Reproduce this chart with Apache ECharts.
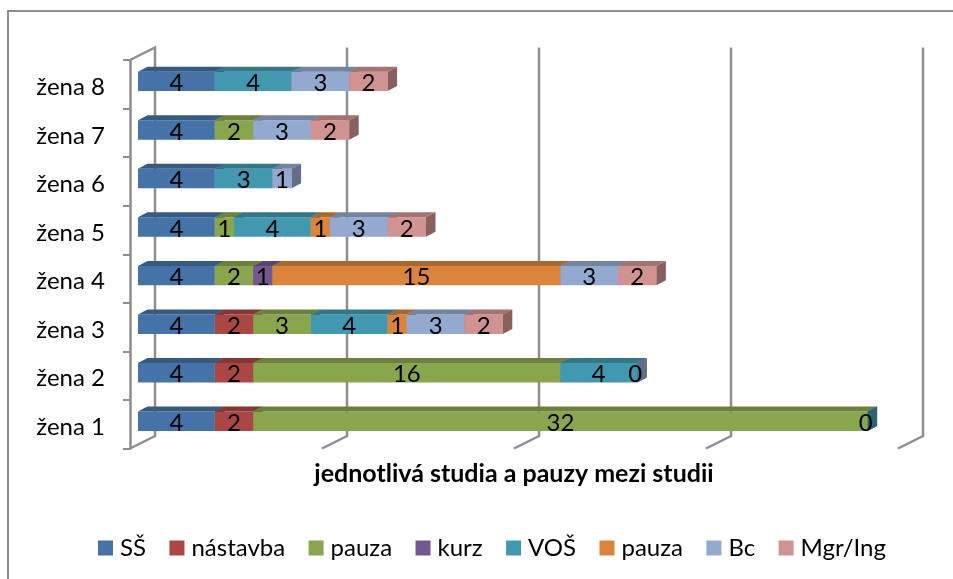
<!DOCTYPE html>
<html>
<head>
<meta charset="utf-8">
<style>
  html, body { margin: 0; padding: 0; background: #fff; }
  #chart { width: 953px; height: 579px; }
</style>
<script src="https://cdn.jsdelivr.net/npm/echarts@6/dist/echarts.min.js"></script>
</head>
<body>
<div id="chart"></div>
<script>
const categories = ['žena 1', 'žena 2', 'žena 3', 'žena 4', 'žena 5', 'žena 6', 'žena 7', 'žena 8'];
const ss = [4, 4, 4, 4, 4, 4, 4, 4];
const nastavba = [2, 2, 2, null, null, null, null, null];
const pauza1 = [32, 16, 3, 2, 1, null, 2, null];
const kurz = [null, null, null, 1, null, null, null, null];
const vos = [0, 4, 4, null, 4, 3, null, 4];
const pauza2 = [null, null, 1, 15, 1, null, null, null];
const bc = [null, 0, 3, 3, 3, 1, 3, 3];
const mgr = [null, null, 2, 2, 2, null, 2, 2];
const wallTicks = [0, 10, 20, 30, 40];

const names = ['SŠ', 'nástavba', 'pauza', 'kurz', 'VOŠ', 'pauza 2', 'Bc', 'Mgr/Ing'];
const colors = ['#4573a7', '#aa4643', '#89a54e', '#71588f', '#4198af', '#db843d', '#93a9cf', '#d19392'];
const values = [ss, nastavba, pauza1, kurz, vos, pauza2, bc, mgr];

const FONT = 'Lato, Carlito, sans-serif';
const GRID_COLOR = '#8e8e8e';
// pseudo 3D offsets
const WALL_DX = 25, WALL_DY = -12.5;
const BAR_X = 8, BAR_Y = -2.9, BAR_H = 19.4;
const DEPTH_X = 9.5, DEPTH_Y = -5;

// running total per woman, the bars are stacked by hand
const totals = categories.map(() => 0);
const stacked = values.map(arr => arr.map((v, i) => {
  if (v === null) return null;
  const start = totals[i];
  totals[i] += v;
  return [start, totals[i], i, v];
}).filter(d => d));

function darken(hex, k) {
  const n = parseInt(hex.slice(1), 16);
  const c = [n >> 16, (n >> 8) & 255, n & 255].map(x => Math.round(x * k));
  return 'rgb(' + c.join(',') + ')';
}

function renderSegment(params, api) {
  const start = api.coord([api.value(0), api.value(2)]);
  const end = api.coord([api.value(1), api.value(2)]);
  const v = api.value(3);
  const color = colors[params.seriesIndex - 1];
  const x0 = start[0] + BAR_X, x1 = end[0] + BAR_X;
  const yt = start[1] + BAR_Y - BAR_H / 2, yb = yt + BAR_H;
  const children = [];
  if (v > 0) {
    children.push({
      type: 'rect',
      shape: { x: x0, y: yt, width: x1 - x0, height: BAR_H },
      style: { fill: color }
    });
    children.push({
      type: 'polygon',
      shape: { points: [[x0, yt], [x0 + DEPTH_X, yt + DEPTH_Y], [x1 + DEPTH_X, yt + DEPTH_Y], [x1, yt]] },
      style: { fill: darken(color, 0.78) }
    });
  }
  children.push({
    type: 'polygon',
    shape: { points: [[x1, yt], [x1 + DEPTH_X, yt + DEPTH_Y], [x1 + DEPTH_X, yb + DEPTH_Y], [x1, yb]] },
    style: { fill: darken(color, 0.65) }
  });
  children.push({
    type: 'text',
    z2: 10,
    style: {
      x: (x0 + x1) / 2 - (v === 0 ? 2 : 0),
      y: start[1] + BAR_Y + 2,
      text: String(v),
      font: '24px ' + FONT,
      fill: '#000',
      align: 'center',
      verticalAlign: 'middle'
    }
  });
  return { type: 'group', children: children };
}

function renderWall(params, api) {
  const v = api.value(0);
  const half = api.size([0, 1])[1] / 2;
  const x = api.coord([v, 0])[0];
  const topY = api.coord([v, categories.length - 1])[1] - half;
  const bottomY = api.coord([v, 0])[1] + half;
  const points = [
    [x + WALL_DX, topY + WALL_DY],
    [x + WALL_DX, bottomY + WALL_DY],
    [x, bottomY]
  ];
  if (v === 0) points.unshift([x, topY]);
  return {
    type: 'polyline',
    shape: { points: points },
    style: { stroke: GRID_COLOR, lineWidth: 2.5, fill: 'none' }
  };
}

const chart = echarts.init(document.getElementById('chart'));
chart.setOption({
  animation: false,
  backgroundColor: '#fff',
  graphic: [{
    type: 'polyline',
    shape: { points: [[8, 579], [8, 11], [953, 11]] },
    style: { fill: 'none', stroke: GRID_COLOR, lineWidth: 2 }
  }],
  legend: {
    data: names,
    left: 93,
    top: 531,
    itemWidth: 15,
    itemHeight: 15,
    itemGap: 23.4,
    icon: 'rect',
    formatter: n => (n === 'pauza 2' ? 'pauza' : n),
    textStyle: { fontFamily: FONT, fontSize: 24, color: '#000', padding: [0, 0, 0, 2] }
  },
  grid: { left: 130, top: 60, width: 768, height: 388.5 },
  xAxis: {
    type: 'value',
    min: 0,
    max: 40,
    interval: 10,
    name: 'jednotlivá studia a pauzy mezi studii',
    nameLocation: 'middle',
    nameGap: 13,
    nameTextStyle: { fontFamily: FONT, fontSize: 25, fontWeight: 'bold', color: '#000' },
    axisLabel: { show: false },
    axisLine: { show: false },
    axisTick: { show: false },
    splitLine: { show: false }
  },
  yAxis: {
    type: 'category',
    data: categories,
    axisLine: { show: true, lineStyle: { color: GRID_COLOR, width: 2.5 } },
    axisTick: { show: true, length: 7, lineStyle: { color: GRID_COLOR, width: 2 } },
    axisLabel: { margin: 25, fontFamily: FONT, fontSize: 24, color: '#000', verticalAlign: 'top', lineHeight: 6 }
  },
  series: [
    {
      type: 'custom',
      name: 'stěny',
      silent: true,
      z: 1,
      renderItem: renderWall,
      data: wallTicks.map(v => [v]),
      encode: { x: 0 }
    }
  ].concat(names.map((name, s) => ({
    type: 'custom',
    name: name,
    z: 2,
    itemStyle: { color: colors[s] },
    renderItem: renderSegment,
    encode: { x: [0, 1], y: 2 },
    data: stacked[s]
  })))
});
</script>
</body>
</html>
